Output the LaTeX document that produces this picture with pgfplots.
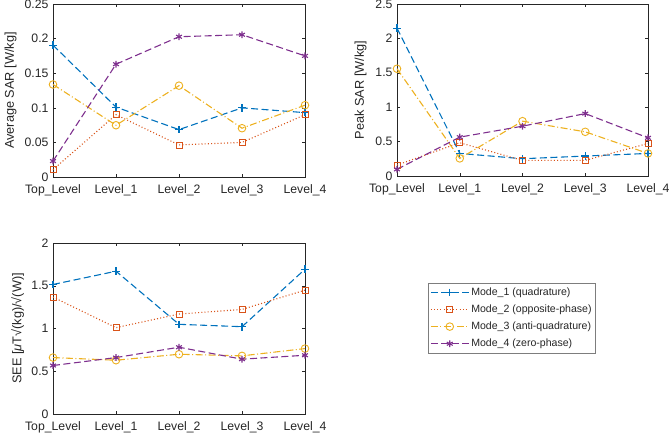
\documentclass[border=0pt]{standalone}
\usepackage{pgfplots}
\pgfplotsset{compat=1.18}
\usepackage{fontspec}
\setmainfont{Liberation Sans}
\definecolor{c1}{rgb}{0,0.447,0.741}
\definecolor{c2}{rgb}{0.85,0.325,0.098}
\definecolor{c3}{rgb}{0.929,0.694,0.125}
\definecolor{c4}{rgb}{0.494,0.184,0.556}
\definecolor{axc}{rgb}{0.15,0.15,0.15}
\pgfplotsset{
  mystyle/.style={
    scale only axis,
    xmin=0, xmax=4, xtick={0,1,2,3,4},
    xticklabels={Top\_Level,Level\_1,Level\_2,Level\_3,Level\_4},
    ymin=0,
    axis line style={axc, line width=0.5pt},
    every tick/.style={axc, line width=0.5pt},
    major tick length=3bp,
    tick label style={font=\fontsize{12.3}{14}\selectfont, text=axc},
    xticklabel style={yshift=-4.5bp},
    yticklabel style={xshift=-1bp},
    label style={font=\fontsize{12.8}{14}\selectfont, text=axc},
    /pgf/number format/assume math mode=true,
    scaled y ticks=false,
    clip=false,
  },
  m1/.style={color=c1, line width=1.1pt, dash pattern=on 7bp off 3.5bp, mark=+, mark size=3.8bp, mark options={solid}},
  m2/.style={color=c2, line width=1.1pt, dash pattern=on 1bp off 2.2bp, mark=square, mark size=3bp, mark options={solid, line width=0.9pt}},
  m3/.style={color=c3, line width=1.1pt, dash pattern=on 7bp off 2.5bp on 1bp off 2.5bp, mark=o, mark size=3.8bp, mark options={solid, line width=0.9pt}},
  m4/.style={color=c4, line width=1.1pt, dash pattern=on 7bp off 3.5bp, mark=asterisk, mark size=3.4bp, mark options={solid}},
}
\begin{document}
\begin{tikzpicture}
\useasboundingbox (0,0) rectangle (672bp,-437bp);
% Average SAR
\begin{axis}[mystyle, at={(53bp,-4bp)}, anchor=north west, width=252bp, height=173bp,
  ymax=0.25, ytick={0,0.05,0.1,0.15,0.2,0.25},
  yticklabels={0,0.05,0.1,0.15,0.2,0.25},
  ylabel style={at={(axis description cs:-0.168,0.5)}, anchor=center},
  ylabel={Average SAR [W/kg]}]
\addplot[m1] coordinates {(0,0.1906) (1,0.101) (2,0.0685) (3,0.0999) (4,0.093)};
\addplot[m2] coordinates {(0,0.0106) (1,0.090) (2,0.0463) (3,0.050) (4,0.090)};
\addplot[m3] coordinates {(0,0.1337) (1,0.0748) (2,0.132) (3,0.0705) (4,0.1038)};
\addplot[m4] coordinates {(0,0.023) (1,0.163) (2,0.2027) (3,0.2056) (4,0.175)};
\end{axis}
% Peak SAR
\begin{axis}[mystyle, at={(397bp,-4bp)}, anchor=north west, width=251bp, height=172bp,
  ymax=2.5, ytick={0,0.5,1,1.5,2,2.5},
  yticklabels={0,0.5,1,1.5,2,2.5},
  ylabel style={at={(axis description cs:-0.145,0.5)}, anchor=center},
  ylabel={Peak SAR [W/kg]}]
\addplot[m1] coordinates {(0,2.148) (1,0.328) (2,0.251) (3,0.29) (4,0.328)};
\addplot[m2] coordinates {(0,0.159) (1,0.483) (2,0.227) (3,0.227) (4,0.473)};
\addplot[m3] coordinates {(0,1.559) (1,0.256) (2,0.797) (3,0.642) (4,0.328)};
\addplot[m4] coordinates {(0,0.097) (1,0.565) (2,0.724) (3,0.907) (4,0.555)};
\end{axis}
% SEE
\begin{axis}[mystyle, at={(53bp,-243bp)}, anchor=north west, width=252bp, height=171bp,
  ymax=2, ytick={0,0.5,1,1.5,2},
  yticklabels={0,0.5,1,1.5,2},
  ylabel style={at={(axis description cs:-0.14,0.5)}, anchor=center},
  ylabel={SEE [\textit{μ}T√(kg)/√(W)]},
  legend cell align=left,
  legend style={at={(1.488,0.766)}, anchor=north west, draw=axc!60, line width=0.5pt,
    font=\fontsize{10.6}{12}\selectfont, text=axc, inner xsep=2bp, inner ysep=2.5bp,
    row sep=4bp},
  legend image code/.code={\draw[mark repeat=2, mark phase=2, #1] plot coordinates {(0bp,0bp) (19bp,0bp) (38bp,0bp)};}]
\addplot[m1] coordinates {(0,1.515) (1,1.67) (2,1.049) (3,1.021) (4,1.693)};
\addplot[m2] coordinates {(0,1.367) (1,1.010) (2,1.169) (3,1.223) (4,1.449)};
\addplot[m3] coordinates {(0,0.660) (1,0.629) (2,0.699) (3,0.680) (4,0.765)};
\addplot[m4] coordinates {(0,0.567) (1,0.660) (2,0.781) (3,0.641) (4,0.687)};
\legend{Mode\_1 (quadrature),Mode\_2 (opposite-phase),Mode\_3 (anti-quadrature),Mode\_4 (zero-phase)}
\end{axis}
\end{tikzpicture}
\end{document}
